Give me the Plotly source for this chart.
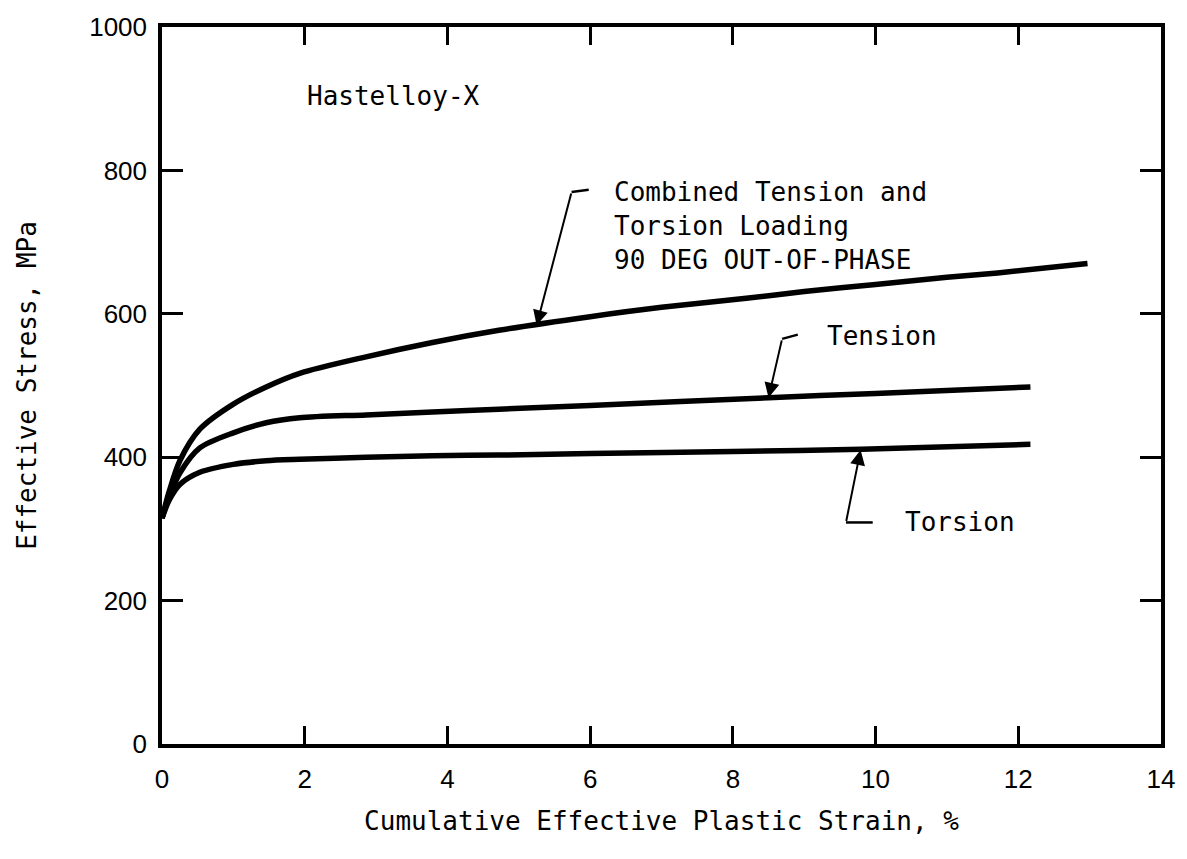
import plotly.graph_objects as go

# Effective stress (MPa) vs cumulative effective plastic strain (%) for Hastelloy-X
strain_combined = [0, 0.1, 0.25, 0.53, 1.0, 1.46, 1.93, 2.86, 3.79, 4.72, 6.0, 7.0, 8.22, 9.0, 10.0, 11.0, 11.71, 12.97]
stress_combined = [315, 352, 395, 439, 474, 498, 517, 540, 560, 577, 596, 609, 622, 631, 641, 651, 657, 670]

strain_tension = [0, 0.1, 0.25, 0.53, 1.0, 1.46, 1.93, 2.86, 3.79, 4.72, 6.0, 8.5, 10.0, 12.17]
stress_tension = [315, 345, 378, 413, 434, 448, 455, 459, 463, 467, 472, 483, 489, 498]

strain_torsion = [0, 0.1, 0.25, 0.53, 1.0, 1.46, 1.93, 2.86, 3.79, 4.72, 6.0, 8.0, 9.8, 12.17]
stress_torsion = [315, 340, 362, 379, 390, 395, 397, 400, 402, 403, 405, 408, 411, 418]

x_ticks = [0, 2, 4, 6, 8, 10, 12, 14]
y_ticks = [0, 200, 400, 600, 800, 1000]

MONO = "DejaVu Sans Mono"
TICKFONT = "Liberation Sans"

fig = go.Figure()
for xs, ys in [(strain_combined, stress_combined),
               (strain_tension, stress_tension),
               (strain_torsion, stress_torsion)]:
    fig.add_trace(go.Scatter(
        x=xs, y=ys, mode="lines",
        line=dict(color="black", width=5.5, shape="spline", smoothing=0.8),
        hoverinfo="skip", showlegend=False,
    ))

# Callouts: (text, text position, arrow tip, elbow, hook end)
callouts = [
    ("Combined Tension and<br>Torsion Loading<br>90 DEG OUT-OF-PHASE", (6.30, 722),
     (5.25, 584), (5.74, 770), (5.98, 773)),
    ("Tension", (9.29, 569), (8.5, 483), (8.69, 565), (8.91, 571)),
    ("Torsion", (10.38, 309), (9.79, 410), (9.585, 309), (9.96, 309)),
]

annotations = []
shapes = []
for text, (tx, ty), (hx, hy), (ex, ey), (kx, ky) in callouts:
    annotations.append(dict(
        x=tx, y=ty, xref="x", yref="y", text=text, showarrow=False,
        xanchor="left", yanchor="middle", align="left",
        font=dict(family=MONO, size=26, color="black"),
    ))
    annotations.append(dict(
        x=hx, y=hy, xref="x", yref="y", ax=ex, ay=ey, axref="x", ayref="y",
        text="", showarrow=True, arrowhead=2, arrowsize=1.5, arrowwidth=2,
        arrowcolor="black",
    ))
    shapes.append(dict(type="line", xref="x", yref="y", x0=ex, y0=ey, x1=kx, y1=ky,
                       line=dict(color="black", width=2.5)))

annotations.append(dict(
    x=2.0, y=904, xref="x", yref="y", text="Hastelloy-X", showarrow=False,
    xanchor="left", yanchor="middle", font=dict(family=MONO, size=26, color="black"),
))

axis_common = dict(
    showgrid=False, zeroline=False, showline=True, linecolor="black", linewidth=3.5,
    mirror="allticks", ticks="inside", tickcolor="black", tickwidth=2.5,
    tickfont=dict(family=TICKFONT, size=26, color="black"),
)

fig.update_layout(
    width=1187, height=859,
    margin=dict(l=162, r=23, t=25, b=115),
    paper_bgcolor="white", plot_bgcolor="white",
    xaxis=dict(range=[0, 14], tickvals=x_ticks, ticklen=18, ticklabelstandoff=9,
               title=dict(text="Cumulative Effective Plastic Strain, %",
                          font=dict(family=MONO, size=26, color="black"), standoff=20),
               **axis_common),
    yaxis=dict(range=[0, 1000], tickvals=y_ticks, ticklen=21, ticklabelstandoff=6,
               title=dict(text="Effective Stress, MPa",
                          font=dict(family=MONO, size=26, color="black"), standoff=46),
               **axis_common),
    annotations=annotations, shapes=shapes,
)

fig.write_html("out.html")
